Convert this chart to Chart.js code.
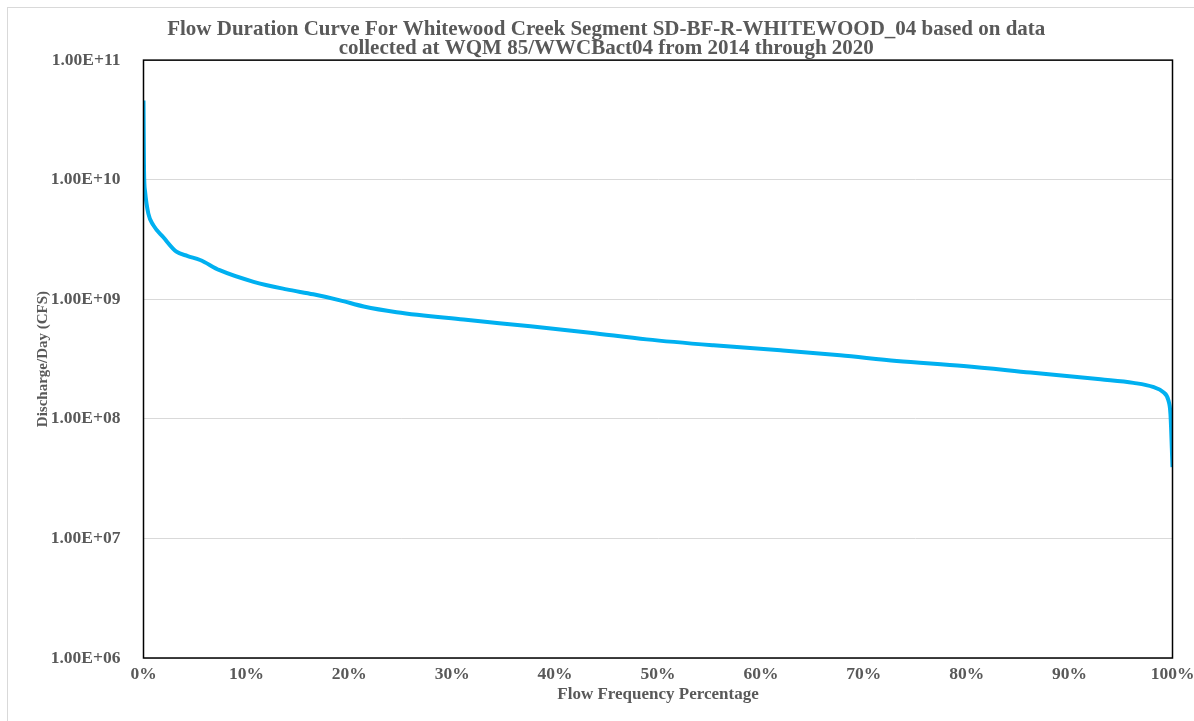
<!DOCTYPE html>
<html>
<head>
<meta charset="utf-8">
<script src="https://cdn.jsdelivr.net/npm/chart.js@4.4.1/dist/chart.umd.min.js"></script>
<style>
  html, body { margin: 0; padding: 0; background: #fff; overflow: hidden; }
  #frame { position: absolute; left: 7px; top: 7px; width: 1200px; height: 730px; border: 1px solid #d9d9d9; }
  #wrap { position: absolute; left: 0; top: 0; width: 1194px; height: 721px; }
</style>
</head>
<body>
<div id="frame"></div>
<div id="wrap"><canvas id="fdc"></canvas></div>
<script>
'use strict';

// flow frequency (% of time exceeded) and discharge per day
const PCT = [0, 0.05, 0.15, 0.47, 0.95, 1.93, 3.2, 4.3, 5.5, 7.4, 10.7, 13.9, 16.5, 19.1,
  21.4, 24.6, 31.1, 37.6, 43.4, 48.9, 55.4, 61.9, 67.7, 73.2, 79.7, 86.2, 93.0, 96.2,
  98.1, 99.1, 99.6, 99.8, 100];
const FLOW = [4.6e10, 1.2e10, 8.0e9, 5.2e9, 4.17e9, 3.3e9, 2.5e9, 2.3e9, 2.13e9, 1.75e9,
  1.40e9, 1.21e9, 1.10e9, 9.8e8, 8.7e8, 7.8e8, 6.76e8, 5.94e8, 5.25e8, 4.62e8, 4.12e8,
  3.74e8, 3.4e8, 3.05e8, 2.77e8, 2.44e8, 2.14e8, 2.0e8, 1.85e8, 1.67e8, 1.43e8, 1.1e8, 3.95e7];
const Y_TICKS = [1e6, 1e7, 1e8, 1e9, 1e10, 1e11];
const TITLE = [
  'Flow Duration Curve For Whitewood Creek Segment SD-BF-R-WHITEWOOD_04 based on data',
  'collected at WQM 85/WWCBact04 from 2014 through 2020',
];

const GREY = '#595959';
const SERIF = "'Liberation Serif', 'Times New Roman', serif";

function sci(v) {
  const e = Math.round(Math.log10(v));
  return (v / Math.pow(10, e)).toFixed(2) + 'E+' + String(e).padStart(2, '0');
}

// black box round the plot area
const plotBox = {
  id: 'plotBox',
  afterDatasetsDraw(chart) {
    const a = chart.chartArea, ctx = chart.ctx;
    ctx.save();
    ctx.strokeStyle = '#000';
    ctx.lineWidth = 1.5;
    ctx.strokeRect(a.left, a.top, a.right - a.left, a.bottom - a.top);
    ctx.restore();
  },
};

const ctx = document.getElementById('fdc').getContext('2d');
new Chart(ctx, {
  type: 'line',
  data: {
    datasets: [{
      label: 'Flow',
      data: PCT.map((p, i) => ({ x: p, y: FLOW[i] })),
      borderColor: '#00B0F0',
      borderWidth: 4,
      pointRadius: 0,
      fill: false,
      cubicInterpolationMode: 'monotone',
    }],
  },
  plugins: [plotBox],
  options: {
    responsive: true,
    maintainAspectRatio: false,
    animation: false,
    layout: { padding: { left: 40, right: 21.5, top: 0, bottom: 0 } },
    plugins: {
      legend: { display: false },
      tooltip: { enabled: false },
      title: {
        display: true,
        text: TITLE,
        color: GREY,
        font: { family: SERIF, size: 21, weight: 'bold', lineHeight: 0.86 },
        padding: { top: 21, bottom: 3 },
      },
    },
    scales: {
      x: {
        type: 'linear',
        min: 0,
        max: 100,
        grid: { display: false, drawTicks: false },
        border: { display: false },
        ticks: {
          stepSize: 10,
          color: GREY,
          padding: 6,
          font: { family: SERIF, size: 17.5, weight: 'bold' },
          callback: v => v + '%',
        },
        title: {
          display: true,
          text: 'Flow Frequency Percentage',
          color: GREY,
          font: { family: SERIF, size: 17, weight: 'bold' },
          padding: { top: 0, bottom: 16 },
        },
        afterFit: s => { s.height = 63; s.paddingLeft = 0; s.paddingRight = 0; },
      },
      y: {
        type: 'logarithmic',
        min: 1e6,
        max: 1e11,
        grid: { color: '#d9d9d9', lineWidth: 1, drawTicks: false },
        border: { display: false },
        afterBuildTicks: s => { s.ticks = Y_TICKS.map(v => ({ value: v })); },
        ticks: {
          color: GREY,
          padding: 23,
          font: { family: SERIF, size: 17.5, weight: 'bold' },
          callback: v => sci(v),
        },
        title: {
          display: true,
          text: 'Discharge/Day (CFS)',
          color: GREY,
          font: { family: SERIF, size: 15, weight: 'bold' },
          padding: { top: -6, bottom: 0 },
        },
        afterFit: s => { s.width = 103.5; },
      },
    },
  },
});
</script>
</body>
</html>
